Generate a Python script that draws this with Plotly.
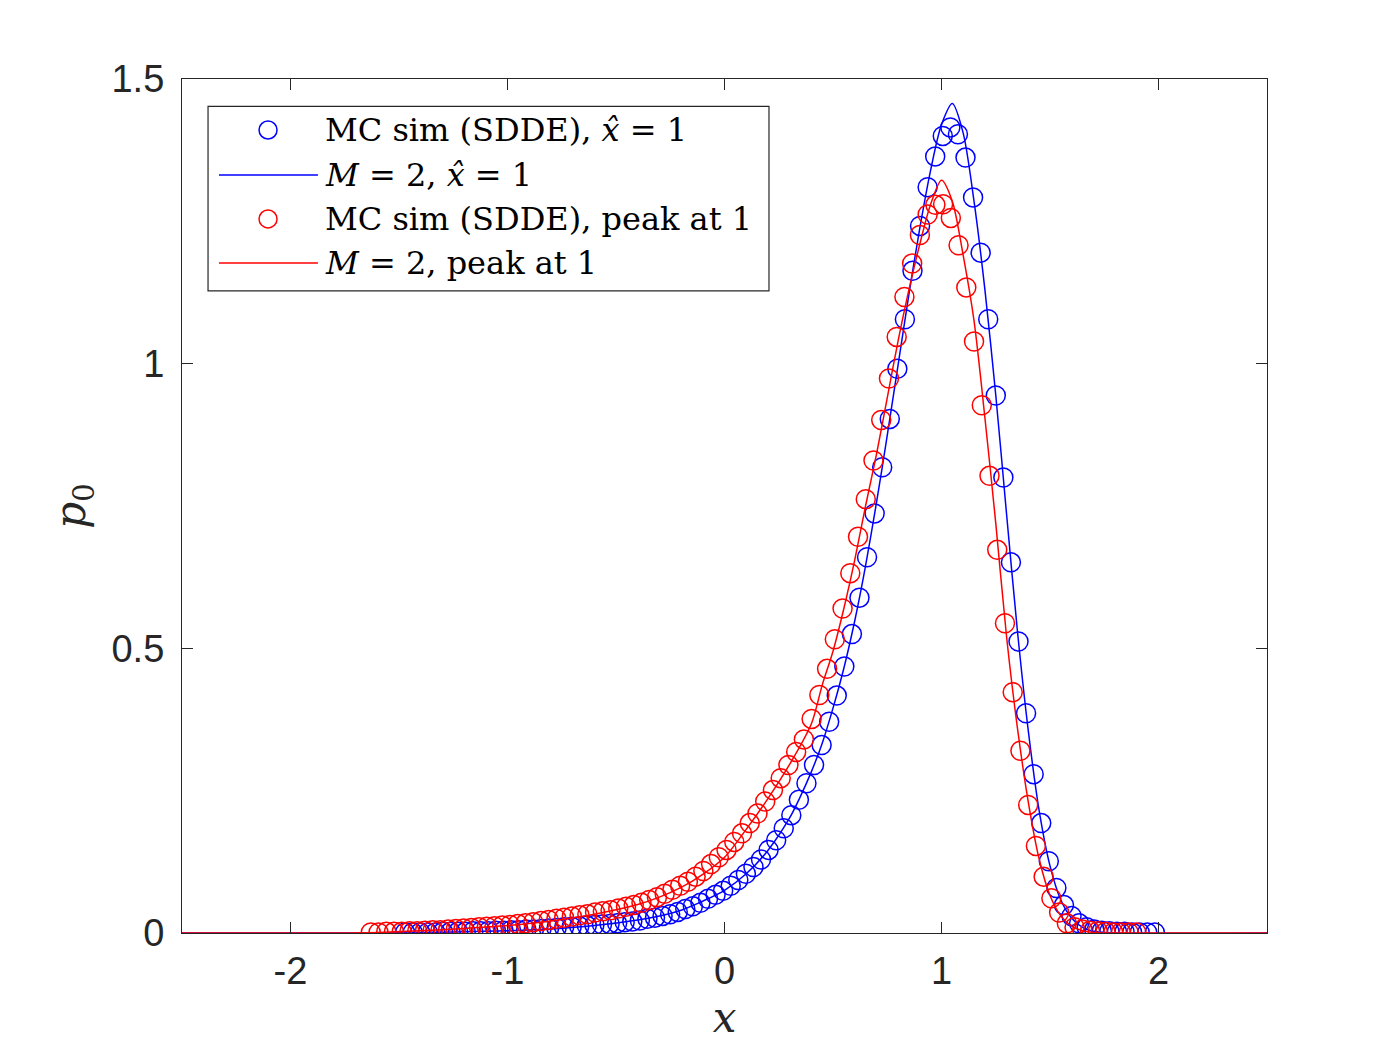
import plotly.graph_objects as go

# MC histogram (bin centres equally spaced)
mc_blue_x0 = -1.472
mc_blue_dx = 0.0349
mc_blue_p = [
    0.001, 0.001, 0.001, 0.001, 0.001, 0.002, 0.002, 0.002, 0.002, 0.003,
    0.003, 0.003, 0.004, 0.004, 0.005, 0.005, 0.006, 0.006, 0.007, 0.008,
    0.009, 0.010, 0.011, 0.012, 0.013, 0.014, 0.015, 0.016, 0.017, 0.019,
    0.020, 0.022, 0.025, 0.027, 0.030, 0.033, 0.037, 0.042, 0.047, 0.053,
    0.060, 0.067, 0.074, 0.083, 0.093, 0.104, 0.116, 0.129, 0.146, 0.163,
    0.184, 0.207, 0.234, 0.263, 0.295, 0.330, 0.371, 0.417, 0.468, 0.525,
    0.589, 0.660, 0.737, 0.818, 0.903, 0.991, 1.078, 1.163, 1.242, 1.310,
    1.364, 1.400, 1.415, 1.403, 1.362, 1.292, 1.195, 1.078, 0.944, 0.800,
    0.651, 0.512, 0.386, 0.279, 0.193, 0.126, 0.079, 0.049, 0.030, 0.017,
    0.010, 0.006, 0.004, 0.003, 0.002, 0.002, 0.001, 0.001, 0.001, 0.001,
]

mc_red_x0 = -1.630
mc_red_dx = 0.03564
mc_red_p = [
    0.001, 0.001, 0.002, 0.002, 0.002, 0.003, 0.003, 0.004, 0.005, 0.005,
    0.006, 0.007, 0.008, 0.009, 0.010, 0.011, 0.012, 0.013, 0.014, 0.016,
    0.017, 0.019, 0.021, 0.023, 0.025, 0.027, 0.029, 0.031, 0.033, 0.036,
    0.038, 0.040, 0.043, 0.046, 0.049, 0.053, 0.058, 0.063, 0.069, 0.076,
    0.083, 0.090, 0.099, 0.109, 0.121, 0.133, 0.146, 0.160, 0.175, 0.193,
    0.210, 0.231, 0.251, 0.272, 0.295, 0.318, 0.340, 0.376, 0.418, 0.464,
    0.516, 0.570, 0.632, 0.696, 0.762, 0.830, 0.901, 0.974, 1.047, 1.117,
    1.176, 1.226, 1.262, 1.279, 1.280, 1.256, 1.208, 1.134, 1.039, 0.927,
    0.803, 0.673, 0.544, 0.423, 0.320, 0.225, 0.153, 0.099, 0.061, 0.036,
    0.017, 0.010, 0.006, 0.004, 0.003, 0.002, 0.001, 0.001, 0.001, 0.001,
]

# M = 2 approximations
m2_blue_x = [-2.5, -1.6, -1.4, -1.2, -1.0, -0.8, -0.6, -0.4, -0.3, -0.2, -0.1, 0.0,
             0.1, 0.2, 0.3, 0.35, 0.4, 0.45, 0.5, 0.55, 0.6, 0.65, 0.7, 0.75, 0.8,
             0.85, 0.9, 0.95, 1.0, 1.05, 1.1, 1.15, 1.2, 1.25, 1.3, 1.35, 1.4,
             1.45, 1.5, 1.55, 1.6, 1.65, 1.7, 1.75, 1.8, 2.5]
m2_blue_p = [0.0, 0.0, 0.001, 0.002, 0.004, 0.007, 0.013, 0.023, 0.030, 0.040, 0.056, 0.075,
             0.104, 0.145, 0.202, 0.240, 0.283, 0.333, 0.395, 0.465, 0.548, 0.645, 0.755, 0.874, 0.998,
             1.122, 1.238, 1.340, 1.420, 1.457, 1.405, 1.285, 1.130, 0.945, 0.735, 0.530, 0.355,
             0.215, 0.118, 0.058, 0.026, 0.010, 0.003, 0.001, 0.0, 0.0]

m2_red_x = [-2.5, -1.8, -1.6, -1.4, -1.2, -1.0, -0.8, -0.6, -0.4, -0.3, -0.2, -0.1, 0.0,
            0.1, 0.2, 0.3, 0.4, 0.45, 0.5, 0.55, 0.6, 0.65, 0.7, 0.75, 0.8, 0.85, 0.9,
            0.95, 1.0, 1.05, 1.1, 1.15, 1.2, 1.25, 1.3, 1.35, 1.4, 1.45, 1.5, 1.55,
            1.6, 1.65, 1.7, 1.8, 2.5]
m2_red_p = [0.0, 0.0, 0.001, 0.004, 0.008, 0.013, 0.021, 0.033, 0.050, 0.063, 0.080, 0.103, 0.133,
            0.182, 0.236, 0.296, 0.367, 0.435, 0.495, 0.570, 0.655, 0.750, 0.840, 0.940, 1.040, 1.130, 1.210,
            1.280, 1.322, 1.285, 1.190, 1.075, 0.905, 0.720, 0.520, 0.360, 0.230, 0.130, 0.066, 0.030,
            0.012, 0.004, 0.001, 0.0, 0.0]

x_ticks = [-2, -1, 0, 1, 2]
x_tick_labels = ["-2", "-1", "0", "1", "2"]
y_ticks = [0, 0.5, 1, 1.5]
y_tick_labels = ["0", "0.5", "1", "1.5"]

legend_labels = [
    "MC sim (SDDE), <i>x̂</i> = 1",
    "<i>M</i> = 2, <i>x̂</i> = 1",
    "MC sim (SDDE), peak at 1",
    "<i>M</i> = 2, peak at 1",
]

BLUE = "rgb(0,0,255)"
RED = "rgb(255,0,0)"
AXIS = "#262626"
SERIF = "DejaVu Serif"
SANS = "Liberation Sans, Arial, sans-serif"


def add_mc(fig, x0, dx, p, color):
    fig.add_trace(go.Scatter(
        x0=x0, dx=dx, y=p, mode="markers", showlegend=False,
        marker=dict(symbol="circle-open", size=19, color=color, line=dict(width=1.5, color=color)),
    ))


def add_curve(fig, x, p, color):
    fig.add_trace(go.Scatter(
        x=x, y=p, mode="lines", showlegend=False,
        line=dict(color=color, width=1.5, shape="spline", smoothing=0.8),
    ))


def add_legend(fig):
    # hand-made legend box, MATLAB style
    shapes = [dict(type="rect", xref="paper", yref="paper", x0=0.024, x1=0.541, y0=0.752, y1=0.968,
                   line=dict(color=AXIS, width=1.2), fillcolor="white", layer="above")]
    rows_y = [0.9403, 0.8876, 0.8361, 0.7845]
    kinds = [("marker", BLUE), ("line", BLUE), ("marker", RED), ("line", RED)]
    for (kind, color), y, label in zip(kinds, rows_y, legend_labels):
        if kind == "marker":
            shapes.append(dict(type="circle", xref="paper", yref="paper", xsizemode="pixel", ysizemode="pixel",
                               xanchor=0.0793, yanchor=y, x0=-9, x1=9, y0=-9, y1=9,
                               line=dict(color=color, width=1.5), layer="above"))
        else:
            shapes.append(dict(type="line", xref="paper", yref="paper", x0=0.0341, x1=0.1253, y0=y, y1=y,
                               line=dict(color=color, width=1.5), layer="above"))
        fig.add_annotation(x=0.1300, y=y, xref="paper", yref="paper", text=label, showarrow=False,
                           xanchor="left", yanchor="middle", font=dict(family=SERIF, size=32, color="black"))
    fig.update_layout(shapes=shapes)


def main():
    fig = go.Figure()
    add_mc(fig, mc_blue_x0, mc_blue_dx, mc_blue_p, BLUE)
    add_curve(fig, m2_blue_x, m2_blue_p, BLUE)
    add_mc(fig, mc_red_x0, mc_red_dx, mc_red_p, RED)
    add_curve(fig, m2_red_x, m2_red_p, RED)
    add_legend(fig)

    axis_common = dict(
        showline=True, linecolor=AXIS, linewidth=1.2, mirror="ticks",
        ticks="inside", ticklen=11, tickwidth=1.2, tickcolor=AXIS,
        showgrid=False, zeroline=False, automargin=False,
        tickfont=dict(family=SANS, size=38, color=AXIS),
    )
    fig.update_xaxes(range=[-2.5, 2.5], tickvals=x_ticks, ticktext=x_tick_labels,
                     ticklabelstandoff=4,
                     title=dict(text="<i>x</i>", font=dict(family=SERIF, size=42, color=AXIS), standoff=15),
                     **axis_common)
    fig.update_yaxes(range=[0, 1.5], tickvals=y_ticks, ticktext=y_tick_labels,
                     ticklabelstandoff=9,
                     title=dict(text="<i>p</i><sub>0</sub>", font=dict(family=SERIF, size=42, color=AXIS), standoff=12),
                     **axis_common)
    # page body adds an 8px offset, so the figure is sized to keep the axes where the reference has them
    fig.update_layout(
        width=1384, height=1034,
        margin=dict(l=174, r=125, t=71, b=109),
        paper_bgcolor="white", plot_bgcolor="white",
    )
    fig.write_html("out.html")


if __name__ == "__main__":
    main()
